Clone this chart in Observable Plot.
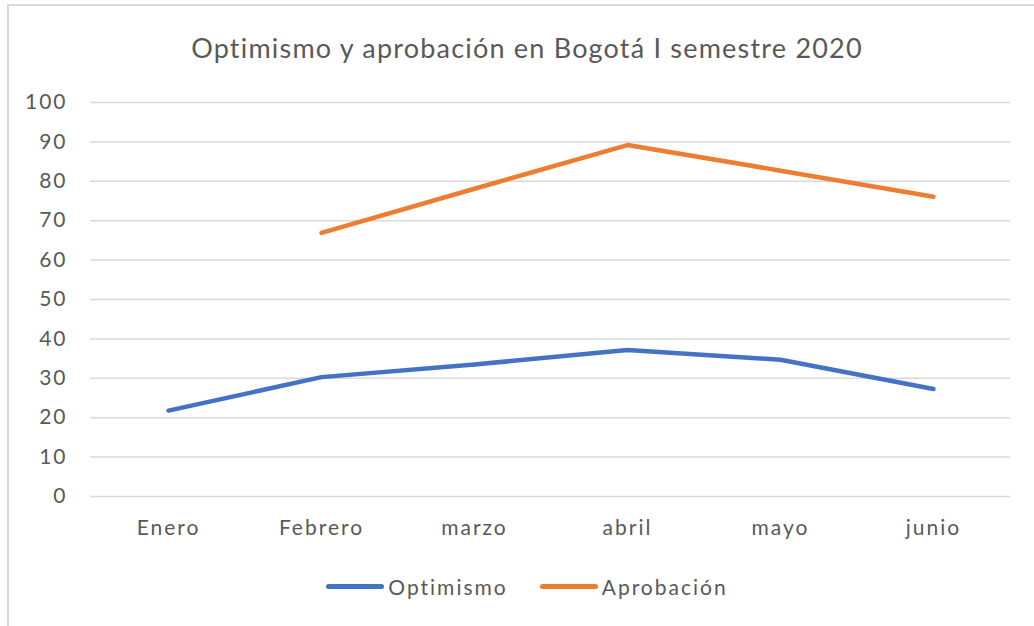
<!DOCTYPE html>
<html>
<head>
<meta charset="utf-8">
<script src="https://cdn.jsdelivr.net/npm/d3@7"></script>
<script src="https://cdn.jsdelivr.net/npm/@observablehq/plot@0.6"></script>
<style>
  html, body { margin: 0; padding: 0; background: #fff; overflow: hidden; width: 1034px; height: 626px; }
  #frame { position: absolute; left: 7px; top: 4px; width: 1100px; height: 700px;
           border-left: 2px solid #d9d9d9; border-top: 2px solid #d9d9d9; }
  #title { position: absolute; left: 8px; width: 1038px; top: 32px; text-align: center;
           font-family: Lato, sans-serif; font-size: 27px; letter-spacing: 1.2px; color: #595959; line-height: 32px; }
  #chart { position: absolute; left: 0; top: 0; }
  #chart svg text { letter-spacing: 2px; }
  #legend { position: absolute; left: 8px; width: 1038px; top: 574px; display: flex; justify-content: center;
            align-items: center; font-family: Lato, sans-serif; font-size: 21px; letter-spacing: 2px; color: #595959; gap: 32px; }
  .item { display: flex; align-items: center; gap: 4px; }
  .sw { width: 58px; height: 5px; border-radius: 3px; }
</style>
</head>
<body>
<div id="frame"></div>
<div id="chart"></div>
<div id="title">Optimismo y aprobación en Bogotá I semestre 2020</div>
<div id="legend"></div>
<script>
const months = ["Enero", "Febrero", "marzo", "abril", "mayo", "junio"];
const optimismo = [21.8, 30.3, 33.5, 37.2, 34.7, 27.3];
const aprobacion = [null, 66.9, 78.1, 89.2, 82.7, 76.1];
const yTicks = [0, 10, 20, 30, 40, 50, 60, 70, 80, 90, 100];
const seriesNames = ["Optimismo", "Aprobación"];
const seriesColors = ["#4472C4", "#ED7D31"];

const rows = [];
months.forEach((m, i) => {
  rows.push({month: m, series: seriesNames[0], value: optimismo[i]});
  rows.push({month: m, series: seriesNames[1], value: aprobacion[i] == null ? NaN : aprobacion[i]});
});

const chart = Plot.plot({
  width: 1034,
  height: 546,
  marginLeft: 90,
  marginRight: 24,
  marginTop: 102,
  marginBottom: 50,
  style: {fontFamily: "Lato, sans-serif", color: "#595959", background: "transparent"},
  x: {type: "point", domain: months, padding: 0.5, label: null},
  y: {domain: [0, 100], label: null},
  color: {domain: seriesNames, range: seriesColors},
  marks: [
    Plot.gridY(yTicks, {stroke: "#d9d9d9", strokeOpacity: 1, strokeWidth: 1.5}),
    Plot.axisY(yTicks, {tickSize: 0, tickPadding: 23, fontSize: 21, label: null, fill: "#595959"}),
    Plot.axisX({tickSize: 0, tickPadding: 24, fontSize: 21, label: null, fill: "#595959"}),
    Plot.line(rows, {x: "month", y: "value", z: "series", stroke: "series",
      strokeWidth: 4.5, strokeLinecap: "round", strokeLinejoin: "round"})
  ]
});
document.getElementById("chart").appendChild(chart);

const legend = document.getElementById("legend");
seriesNames.forEach((name, i) => {
  const item = document.createElement("div");
  item.className = "item";
  const sw = document.createElement("div");
  sw.className = "sw";
  sw.style.background = seriesColors[i];
  const label = document.createElement("span");
  label.textContent = name;
  item.appendChild(sw);
  item.appendChild(label);
  legend.appendChild(item);
});
</script>
</body>
</html>
